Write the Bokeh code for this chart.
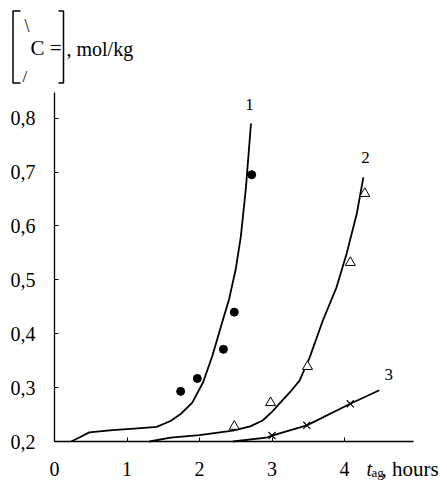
from bokeh.plotting import figure
from bokeh.models import Range1d, Label, CustomJSTickFormatter, FixedTicker
from bokeh.core.properties import value
from bokeh.embed import file_html
from bokeh.resources import INLINE

# ---- data ----
curve1_x = [0.23, 0.35, 0.48, 0.8, 1.1, 1.41, 1.6, 1.75, 1.90, 2.05, 2.18, 2.30, 2.41, 2.50, 2.57, 2.64, 2.71]
curve1_y = [0.200, 0.208, 0.217, 0.221, 0.224, 0.227, 0.238, 0.252, 0.272, 0.310, 0.360, 0.415, 0.465, 0.520, 0.580, 0.670, 0.790]
curve2_x = [1.31, 1.6, 2.0, 2.46, 2.7, 2.87, 3.0, 3.14, 3.27, 3.38, 3.52, 3.70, 3.89, 4.03, 4.17, 4.26]
curve2_y = [0.200, 0.207, 0.212, 0.220, 0.228, 0.239, 0.255, 0.276, 0.295, 0.313, 0.356, 0.424, 0.486, 0.549, 0.623, 0.690]
curve3_x = [2.46, 2.92, 3.0, 3.48, 4.08, 4.48]
curve3_y = [0.200, 0.207, 0.211, 0.230, 0.270, 0.295]

pts1_x = [1.74, 1.97, 2.33, 2.48, 2.72]
pts1_y = [0.293, 0.317, 0.371, 0.440, 0.695]
pts2_x = [2.48, 2.98, 3.49, 4.08, 4.28]
pts2_y = [0.228, 0.272, 0.339, 0.532, 0.660]
pts3_x = [3.0, 3.48, 4.08]
pts3_y = [0.211, 0.230, 0.270]

curve_labels = ["1", "2", "3"]
curve_label_x = [2.69, 4.29, 4.61]
curve_label_y = [0.825, 0.727, 0.324]

x_ticks = [0, 1, 2, 3, 4]
y_ticks = [0.2, 0.3, 0.4, 0.5, 0.6, 0.7, 0.8]
x_axis_end = 4.95
y_axis_end = 0.8475

FONT = "Liberation Serif"
W, H = 447, 480

# ---- layout: canvas pixel <-> data ----
X0_PX, X_PER_UNIT = 54.0, 72.5      # canvas x of value 0, pixels per x unit
Y0_PX, Y_PER_UNIT = 441.0, 539.0    # canvas y of value 0.2, pixels per y unit
Y_BASE = 0.2

def dx(px):
    return (px - X0_PX) / X_PER_UNIT

def dy(py):
    return Y_BASE + (Y0_PX - py) / Y_PER_UNIT

p = figure(width=W, height=H, output_backend="svg", toolbar_location=None,
           x_range=Range1d(dx(0), dx(W)), y_range=Range1d(dy(H), dy(0)),
           min_border=0)
p.grid.visible = False
p.outline_line_color = None
p.background_fill_color = "white"
p.border_fill_color = "white"

p.xaxis.fixed_location = Y_BASE
p.xaxis.bounds = (0, x_axis_end)
p.yaxis.fixed_location = 0
p.yaxis.bounds = (Y_BASE, y_axis_end)

for ax in (p.xaxis[0], p.yaxis[0]):
    ax.axis_line_width = 1.3
    ax.axis_line_color = "black"
    ax.major_tick_in = 4
    ax.major_tick_out = 0
    ax.minor_tick_line_color = None
    ax.major_tick_line_color = "black"
    ax.major_label_text_font = FONT
    ax.major_label_text_font_size = "20px"
    ax.major_label_text_color = "black"

p.xaxis.ticker = FixedTicker(ticks=x_ticks)
p.xaxis.major_label_standoff = 20
p.yaxis.ticker = FixedTicker(ticks=y_ticks)
p.yaxis.major_label_standoff = 19
p.yaxis.formatter = CustomJSTickFormatter(code="return tick.toFixed(1).replace('.', ',');")

p.line(curve1_x, curve1_y, line_width=1.8, color="black")
p.line(curve2_x, curve2_y, line_width=1.8, color="black")
p.line(curve3_x, curve3_y, line_width=1.8, color="black")

p.scatter(pts1_x, pts1_y, marker="circle", size=8, color="black")
p.scatter(pts2_x, pts2_y, marker="triangle", size=10, fill_color="white", line_color="black", line_width=1)
p.scatter(pts3_x, pts3_y, marker="x", size=10, line_color="black", line_width=1.2)

p.text(curve_label_x, curve_label_y, text=curve_labels, text_font=value(FONT), text_font_size="17px",
       text_align="center", text_baseline="middle", text_color="black")

def lab(text, px, py, size, style="normal", align="left"):
    p.add_layout(Label(x=dx(px), y=dy(py), text=text,
                       text_font=FONT, text_font_size=size, text_font_style=style,
                       text_align=align, text_baseline="middle", text_color="black"))

# y-axis title: [ \ C = / ], mol/kg   (positions are visual centres)
lab("\\", 24, 25, "18px")
lab("C =", 30, 47.5, "21px")
lab("/", 22, 76, "17px")
lab(", mol/kg", 66, 48, "20px")

def bracket(xo, xs, top, bot):
    p.line([dx(xs), dx(xo), dx(xo), dx(xs)], [dy(top), dy(top), dy(bot), dy(bot)],
           line_width=1.5, color="black")

bracket(12.5, 20, 10.5, 82.5)
bracket(63, 58, 10.5, 82.5)

# x-axis title
lab("t", 366, 468, "20px", style="italic")
lab("ag", 371, 472, "13px")
lab(", hours", 381, 468, "21px")

open("out.html", "w").write(file_html(p, INLINE))
